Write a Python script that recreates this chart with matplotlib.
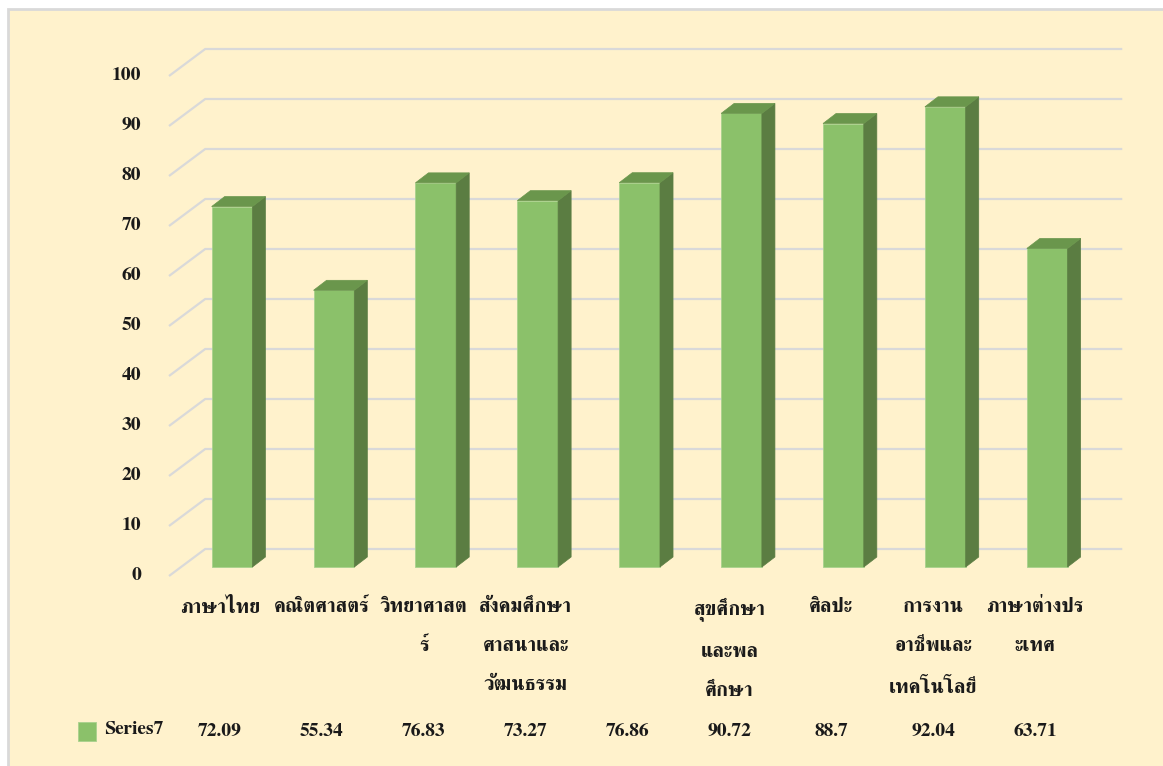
import matplotlib
matplotlib.use("Agg")
import matplotlib.pyplot as plt
from matplotlib.patches import Polygon, Rectangle

# data
categories = [
    "ภาษาไทย",
    "คณิตศาสตร์",
    "วิทยาศาสต\nร์",
    "สังคมศึกษา\nศาสนาและ\nวัฒนธรรม",
    "",
    "สุขศึกษา\nและพล\nศึกษา",
    "ศิลปะ",
    "การงาน\nอาชีพและ\nเทคโนโลยี",
    "ภาษาต่างปร\nะเทศ",
]
values = [72.09, 55.34, 76.83, 73.27, 76.86, 90.72, 88.7, 92.04, 63.71]
value_labels = ["72.09", "55.34", "76.83", "73.27", "76.86", "90.72", "88.7", "92.04", "63.71"]
series_name = "Series7"
y_ticks = list(range(0, 101, 10))

BG = "#FFF2CC"
GRID = "#D9D9D9"
FRONT = "#8BC16A"
SIDE = "#5B7D42"
TOP = "#6A964C"
FONT = "FreeSerif"

plt.rcParams["font.family"] = [FONT, "DejaVu Sans"]
plt.rcParams["font.weight"] = "bold"

W, H = 1163, 766
fig = plt.figure(figsize=(W / 100, H / 100), dpi=100)
fig.patch.set_facecolor("white")
fig.patches.append(Rectangle((8 / W, -0.1), 1.2, (H - 9) / H + 0.1,
                             transform=fig.transFigure, facecolor=BG,
                             edgecolor=GRID, lw=2, zorder=-10))

# pseudo 3-D geometry (data units: 1 per category, 1 per value point)
n = len(values)
DX, DY = 0.355, 5.4          # full depth of the plot box
bx, by = DX / 3, DY / 3      # depth where bar fronts sit
bw = 0.40                    # bar front width
sdx, sdy = 0.128, 2.0        # bar depth

ax_w = (n + DX) * 101.9
ax_h = (100 + DY) * 5.0
ax = fig.add_axes([169 / W, (H - 576) / H, ax_w / W, ax_h / H])
ax.set_xlim(0, n + DX)
ax.set_ylim(0, 100 + DY)
ax.axis("off")

for v in y_ticks:
    ax.plot([0, DX, n + DX], [v, v + DY, v + DY], color=GRID, lw=1.6,
            solid_capstyle="butt", zorder=1, clip_on=False)
    ax.text(-0.27, v, str(v), ha="right", va="center", fontsize=14,
            fontweight="bold", color="#1a1a1a")

for i, v in enumerate(values):
    x0 = i + 0.5 - bw / 2 + bx
    x1 = x0 + bw
    y0 = by
    y1 = by + v
    ax.add_patch(Polygon([(x0, y0), (x1, y0), (x1, y1), (x0, y1)], closed=True,
                         facecolor=FRONT, edgecolor="#A9D18E", lw=0.6, zorder=3))
    ax.add_patch(Polygon([(x1, y0), (x1 + sdx, y0 + sdy), (x1 + sdx, y1 + sdy), (x1, y1)],
                         closed=True, facecolor=SIDE, edgecolor=SIDE, lw=0.5, zorder=3))
    ax.add_patch(Polygon([(x0, y1), (x1, y1), (x1 + sdx, y1 + sdy), (x0 + sdx, y1 + sdy)],
                         closed=True, facecolor=TOP, edgecolor=TOP, lw=0.5, zorder=3))

for i, (lab, vl) in enumerate(zip(categories, value_labels)):
    ax.text(i + 0.5, -4.3, lab, ha="center", va="top", fontsize=14.5,
            fontweight="bold", linespacing=2.52, clip_on=False, color="#1a1a1a")
    ax.text(i + 0.5, -31, vl, ha="center", va="center", fontsize=14,
            fontweight="bold", clip_on=False, color="#1a1a1a")

# data-table legend key
ax.add_patch(Rectangle((-0.893, -33.0), 0.177, 3.8, facecolor=FRONT,
                       edgecolor="#A9D18E", lw=0.6, clip_on=False))
ax.text(-0.64, -30.6, series_name, ha="left", va="center", fontsize=14,
        fontweight="bold", color="#1a1a1a")

fig.savefig("out.png", dpi=100, facecolor=fig.get_facecolor())
